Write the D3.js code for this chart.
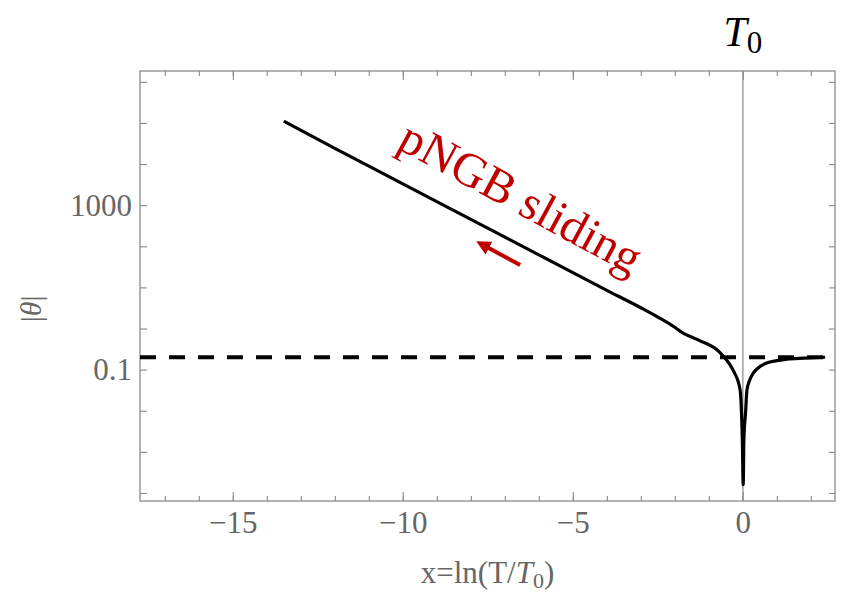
<!DOCTYPE html>
<html>
<head>
<meta charset="utf-8">
<script src="https://cdn.jsdelivr.net/npm/d3@7"></script>
<style>
  body { margin: 0; background: #fff; }
  svg { display: block; }
</style>
</head>
<body>
<svg id="chart" width="842" height="597"></svg>
<script>
// |theta| against x = ln(T/T0)
var xs = [-13.5, -12, -10, -8, -6, -4, -3, -2.5, -2, -1.8, -1.3, -0.7, -0.4, -0.25, -0.08, -0.04, -0.015, 0.01, 0.03, 0.08, 0.12, 0.2, 0.3, 0.45, 0.7, 1.0, 1.3, 1.8, 2.42];
var theta = [1.1e5, 2.4e4, 3300, 450, 62, 8.5, 3.2, 1.9, 1.07, 0.81, 0.52, 0.275, 0.14, 0.085, 0.032, 0.009, 0.002, 1.6e-4, 0.002, 0.009, 0.032, 0.055, 0.081, 0.11, 0.145, 0.165, 0.18, 0.19, 0.2];

// dashed reference level
var dashLevel = 0.2;
var dashEnd = 2.42;

// ticks
var xMajor = [-15, -10, -5, 0];
var xMinor = d3.range(-17, 3);
var yTicks = [1e-4, 1e-3, 1e-2, 0.1, 1, 10, 100, 1000, 1e4, 1e5, 1e6];
var yLabels = [1000, 0.1];

// annotation anchors (data coords)
var noteText = "pNGB sliding";
var notePos = [-6.75, 700];
var arrowFrom = [-6.55, 35];
var arrowTo = [-7.75, 120];

var svg = d3.select("#chart"),
	margin = {top: 71, left: 140, bottom: 96, right: 7},
	width = +svg.attr("width") - margin.left - margin.right,
	height = +svg.attr("height") - margin.top - margin.bottom;

var x = d3.scaleLinear()
	.domain([-17.73, 2.71])
	.range([margin.left, margin.left + width]);

var y = d3.scaleLog()
	.domain([Math.pow(10, -4.195), Math.pow(10, 6.263)])
	.range([margin.top + height, margin.top]);

var frameColor = "#8a8a8a",
	labelColor = "#666",
	serif = "'Liberation Serif', 'Times New Roman', serif";

// frame
svg.append("rect")
	.attr("x", margin.left)
	.attr("y", margin.top)
	.attr("width", width)
	.attr("height", height)
	.attr("fill", "none")
	.attr("stroke", frameColor)
	.attr("stroke-width", 1.3);

function tickStyle(g) {
	g.select(".domain").remove();
	g.selectAll("line").attr("stroke", frameColor).attr("stroke-width", 1.1);
}

// x ticks bottom and top
svg.append("g")
	.attr("transform", "translate(0," + (margin.top + height) + ")")
	.call(d3.axisBottom(x).tickValues(xMinor).tickSize(-5).tickFormat(""))
	.call(tickStyle);
svg.append("g")
	.attr("transform", "translate(0," + margin.top + ")")
	.call(d3.axisTop(x).tickValues(xMinor).tickSize(-5).tickFormat(""))
	.call(tickStyle);
svg.append("g")
	.attr("transform", "translate(0," + margin.top + ")")
	.call(d3.axisTop(x).tickValues(xMajor).tickSize(-9).tickFormat(""))
	.call(tickStyle);

var xAxis = svg.append("g")
	.attr("transform", "translate(0," + (margin.top + height) + ")")
	.call(d3.axisBottom(x).tickValues(xMajor).tickSize(-9).tickPadding(10))
	.call(tickStyle);
xAxis.selectAll("text")
	.attr("font-family", serif)
	.attr("font-size", 31)
	.attr("fill", labelColor);

// y ticks left and right
svg.append("g")
	.attr("transform", "translate(" + (margin.left + width) + ",0)")
	.call(d3.axisRight(y).tickValues(yTicks).tickSize(-6).tickFormat(""))
	.call(tickStyle);

var yAxis = svg.append("g")
	.attr("transform", "translate(" + margin.left + ",0)")
	.call(d3.axisLeft(y).tickValues(yTicks).tickSize(-7).tickPadding(8)
		.tickFormat(d => yLabels.indexOf(d) >= 0 ? String(d) : ""))
	.call(tickStyle);
yAxis.selectAll("text")
	.attr("font-family", serif)
	.attr("font-size", 31)
	.attr("fill", labelColor);

// T0 vertical line
svg.append("line")
	.attr("x1", x(0)).attr("x2", x(0))
	.attr("y1", margin.top).attr("y2", margin.top + height)
	.attr("stroke", "#9a9a9a")
	.attr("stroke-width", 1.4);

// curve
var data = xs.map((d, i) => ({x: d, t: theta[i]}));

var line = d3.line()
	.x(d => x(d.x))
	.y(d => y(d.t))
	.curve(d3.curveMonotoneX);

svg.append("path")
	.datum(data)
	.attr("d", line)
	.attr("fill", "none")
	.attr("stroke", "#000")
	.attr("stroke-width", 3.2)
	.attr("stroke-linejoin", "round");

// dashed level
svg.append("line")
	.attr("x1", x.range()[0]).attr("x2", x(dashEnd))
	.attr("y1", y(dashLevel)).attr("y2", y(dashLevel))
	.attr("stroke", "#000")
	.attr("stroke-width", 4)
	.attr("stroke-dasharray", "16,13");

// annotation
var angle = 28.5;
svg.append("text")
	.attr("transform", "translate(" + x(notePos[0]) + "," + y(notePos[1]) + ") rotate(" + angle + ")")
	.attr("text-anchor", "middle")
	.attr("font-family", serif)
	.attr("font-size", 48)
	.attr("fill", "#c00000")
	.text(noteText);

svg.append("defs").append("marker")
	.attr("id", "head")
	.attr("viewBox", "0 0 10 10")
	.attr("refX", 2).attr("refY", 5)
	.attr("markerWidth", 3.6).attr("markerHeight", 3.6)
	.attr("orient", "auto")
	.append("path")
	.attr("d", "M0,0 L10,5 L0,10 Z")
	.attr("fill", "#c00000");

var ax0 = x(arrowFrom[0]), ay0 = y(arrowFrom[1]),
	ax1 = x(arrowTo[0]), ay1 = y(arrowTo[1]);
var len = Math.hypot(ax1 - ax0, ay1 - ay0);
svg.append("line")
	.attr("x1", ax0).attr("y1", ay0)
	.attr("x2", ax0 + (ax1 - ax0) * (len - 8) / len)
	.attr("y2", ay0 + (ay1 - ay0) * (len - 8) / len)
	.attr("stroke", "#c00000")
	.attr("stroke-width", 4)
	.attr("marker-end", "url(#head)");

// T0 label over the frame
var t0 = svg.append("text")
	.attr("x", x(0))
	.attr("y", 46)
	.attr("text-anchor", "middle")
	.attr("font-family", serif)
	.attr("font-size", 42)
	.attr("fill", "#000");
t0.append("tspan").attr("font-style", "italic").text("T");
t0.append("tspan").attr("font-size", 31).attr("dy", 7).text("0");

// axis titles
var xt = svg.append("text")
	.attr("x", x.range()[0] + width / 2)
	.attr("y", 583)
	.attr("text-anchor", "middle")
	.attr("font-family", serif)
	.attr("font-size", 31)
	.attr("fill", labelColor);
xt.append("tspan").text("x=ln(T/");
xt.append("tspan").attr("font-style", "italic").text("T");
xt.append("tspan").attr("font-size", 22).attr("dy", 5).text("0");
xt.append("tspan").attr("dy", -5).text(")");

var yt = svg.append("text")
	.attr("transform", "translate(41," + y(3) + ") rotate(-90)")
	.attr("text-anchor", "middle")
	.attr("font-family", serif)
	.attr("font-size", 30)
	.attr("fill", labelColor);
yt.append("tspan").text("|");
yt.append("tspan").attr("font-style", "italic").text("θ");
yt.append("tspan").text("|");
</script>
</body>
</html>
